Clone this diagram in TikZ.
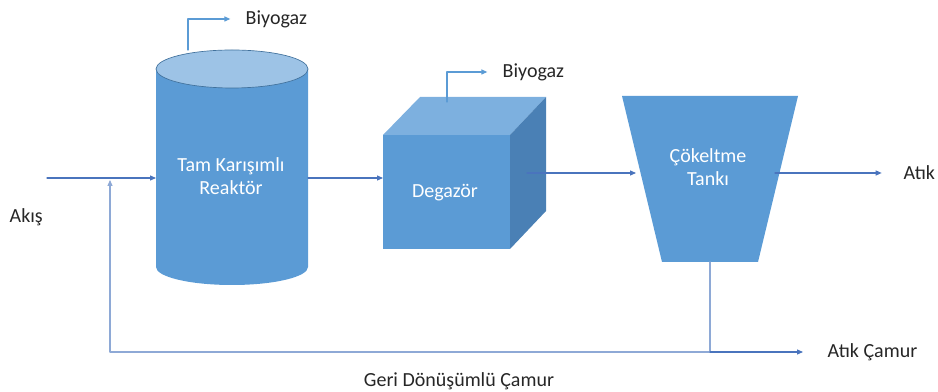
\documentclass[tikz,border=0pt]{standalone}
\usepackage{fontspec}
\setmainfont{Carlito}
\usetikzlibrary{arrows.meta}
\usetikzlibrary{positioning}
\definecolor{tankfill}{HTML}{5B9BD5}
\definecolor{tanklight}{HTML}{9DC3E6}
\definecolor{cubetop}{HTML}{7DB0DF}
\definecolor{cubeside}{HTML}{4A80B5}
\definecolor{edgeblue}{HTML}{41719C}
\definecolor{flowblue}{HTML}{4A74BD}
\definecolor{recycleblue}{HTML}{8EA9D6}
\definecolor{labeltext}{HTML}{262626}

\begin{document}
\begin{tikzpicture}[line cap=round,line join=round,>={Triangle[length=4.5pt,width=3.8pt]},x=0.75pt,y=0.75pt,
  flow/.style={->,draw=flowblue,line width=0.8pt},
  gasline/.style={->,draw=tankfill,line width=0.8pt},
  recycle/.style={->,draw=recycleblue,line width=0.8pt},
  inlabel/.style={text=white,align=center,font=\fontsize{15}{17.5}\selectfont},
  outlabel/.style={text=labeltext,font=\fontsize{15}{17.5}\selectfont}]
\useasboundingbox (0,0) rectangle (938,392);
% reaktor
\fill [tankfill] (156,323) -- (156,125) arc [start angle=180,end angle=360,x radius=76,y radius=18] -- (308,323) -- cycle;
\filldraw [fill=tanklight,draw=edgeblue,line width=0.5pt] (232,323) ellipse [x radius=76,y radius=19];
% degazor
\fill [tankfill] (383,143) rectangle (510,257);
\fill [cubetop] (383,257) -- (420,295) -- (546,295) -- (510,257) -- cycle;
\fill [cubeside] (510,143) -- (546,181) -- (546,295) -- (510,257) -- cycle;
% cokeltme tanki
\fill [tankfill] (622,296) -- (798,296) -- (758,130) -- (662,130) -- cycle;
% uc noktalar
\coordinate (giris) at (47,214);
\coordinate (reaktorW) at (156,214);
\coordinate (reaktorE) at (308,214);
\coordinate (degazorW) at (383,214);
\coordinate (degazorE) at (527,219);
\coordinate (cokeltmeW) at (636,219);
\coordinate (cokeltmeE) at (775,219);
\coordinate (cokeltmeS) at (710,130);
\coordinate (camur) at (710,40);
\coordinate (donus) at (110,40);
\coordinate (donusUst) at (110,212);
\coordinate (gaz1) at (188,342);
\coordinate (gaz2) at (447,290);
% etiketler
\node[inlabel] (reaktor) at (231,216) {Tam Karışımlı\\Reaktör};
\node[inlabel] (degazor) at (445,199) {Degazör};
\node[inlabel] (cokeltme) at (708,225) {Çökeltme\\Tankı};
\node[outlabel,anchor=west] (akis) at (5,175) {Akış};
\node[outlabel,anchor=west] (atik) at (899,219) {Atık};
\node[outlabel,anchor=west] (atikcamur) at (823,40) {Atık Çamur};
\node[outlabel] (geri) at (459,11) {Geri Dönüşümlü Çamur};
\node[outlabel,anchor=west] (biyogaz1) at (241,373) {Biyogaz};
\node[outlabel,anchor=west] (biyogaz2) at (498,320) {Biyogaz};
% akislar
\draw [flow] (giris) -- (reaktorW);
\draw [flow] (reaktorE) -- (degazorW);
\draw [flow] (degazorE) -- (cokeltmeW);
\draw [flow,shorten >=13pt] (cokeltmeE) -- (atik);
\draw [recycle] (cokeltmeS) -- (camur) -- (donus) -- (donusUst);
\draw [flow,shorten >=15pt] (camur) -- (atikcamur);
\draw [gasline,shorten >=8pt] (gaz1) |- (biyogaz1);
\draw [gasline,shorten >=8pt] (gaz2) |- (biyogaz2);
\end{tikzpicture}
\end{document}
